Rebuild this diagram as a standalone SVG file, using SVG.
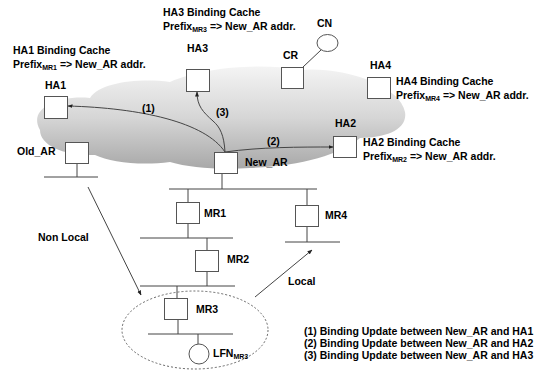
<svg xmlns="http://www.w3.org/2000/svg" width="543" height="370" viewBox="0 0 543 370">
<defs>
<linearGradient id="cg" x1="0" y1="0" x2="0" y2="1">
<stop offset="0" stop-color="#f4f4f4"/>
<stop offset="0.5" stop-color="#d6d6d6"/>
<stop offset="1" stop-color="#a8a8a8"/>
</linearGradient>
<marker id="ah" viewBox="0 0 10 10" refX="9" refY="5" markerWidth="5" markerHeight="5" orient="auto" markerUnits="userSpaceOnUse">
<path d="M0,1 L10,5 L0,9 Z" fill="#222"/>
</marker>
<style>
text{font-family:"Liberation Sans",Arial,sans-serif;font-weight:bold;font-size:10.5px;fill:#000}
.sub{font-size:7px}
.box{fill:#fff;stroke:#555;stroke-width:1}
.ln{stroke:#444;stroke-width:1;fill:none}
.ar{stroke:#444;stroke-width:1;fill:none;marker-end:url(#ah)}
</style>
</defs>
<rect width="543" height="370" fill="#fff"/>
<g id="cloud">
<path d="M40,130 C28,110 55,95 90,98 C100,82 140,78 170,82 C200,68 260,62 300,70 C340,66 400,84 405,112 C408,130 385,138 360,138 C340,155 300,166 250,168 C220,170 190,168 170,162 C140,166 110,162 95,155 C65,156 40,146 40,130 Z" fill="url(#cg)"/>
</g>
<g id="connectors">
<line class="ln" x1="77" y1="164" x2="77" y2="177"/>
<line class="ln" x1="44" y1="177" x2="98" y2="177"/>
<line class="ln" x1="222" y1="174" x2="222" y2="189"/>
<line class="ln" x1="169" y1="189" x2="317" y2="189"/>
<line class="ln" x1="188" y1="189" x2="188" y2="202"/>
<line class="ln" x1="188" y1="224" x2="188" y2="238"/>
<line class="ln" x1="140" y1="238" x2="233" y2="238"/>
<line class="ln" x1="307" y1="189" x2="307" y2="205"/>
<line class="ln" x1="307" y1="227" x2="307" y2="242"/>
<line class="ln" x1="285" y1="242" x2="340" y2="242"/>
<line class="ln" x1="207" y1="238" x2="207" y2="250"/>
<line class="ln" x1="207" y1="272" x2="207" y2="286"/>
<line class="ln" x1="140" y1="286" x2="235" y2="286"/>
<line class="ln" x1="177" y1="286" x2="177" y2="298"/>
<line class="ln" x1="178" y1="320" x2="178" y2="334"/>
<line class="ln" x1="148" y1="334" x2="233" y2="334"/>
<line class="ln" x1="198" y1="334" x2="198" y2="344"/>
<line class="ln" x1="303" y1="67" x2="321" y2="50"/>
<path class="ar" d="M225,152 C205,122 140,108 68,106"/>
<path class="ar" d="M225,152 C224,135 220,127 213,121 C203,112 197,106 197,92"/>
<path class="ar" d="M225,152 C260,147 300,147 333,147"/>
<line class="ar" x1="88" y1="187" x2="141" y2="295"/>
<line class="ar" x1="255" y1="297" x2="312" y2="250"/>
<ellipse cx="195" cy="330" rx="73" ry="39" fill="none" stroke="#666" stroke-width="1" stroke-dasharray="2,2"/>
</g>
<g id="HA1"><rect class="box" x="44.5" y="96.5" width="23" height="22"/><text x="45" y="89">HA1</text></g>
<g id="HA1cache"><text x="13" y="54">HA1 Binding Cache</text><text x="13" y="68">Prefix<tspan class="sub" dy="2">MR1</tspan><tspan dy="-2"> =&gt; New_AR addr.</tspan></text></g>
<g id="HA3"><rect class="box" x="186.5" y="69.5" width="23" height="22"/><text x="187" y="52">HA3</text></g>
<g id="HA3cache"><text x="163" y="16">HA3 Binding Cache</text><text x="163" y="30">Prefix<tspan class="sub" dy="2">MR3</tspan><tspan dy="-2"> =&gt; New_AR addr.</tspan></text></g>
<g id="CN"><ellipse cx="327.5" cy="43" rx="10.5" ry="8.5" fill="#fff" stroke="#555"/><text x="317" y="27">CN</text></g>
<g id="CR"><rect class="box" x="281.5" y="67.5" width="22" height="21"/><text x="283" y="59">CR</text></g>
<g id="HA4"><rect class="box" x="367.5" y="77.5" width="23" height="21"/><text x="370" y="69">HA4</text></g>
<g id="HA4cache"><text x="396" y="85">HA4 Binding Cache</text><text x="396" y="99">Prefix<tspan class="sub" dy="2">MR4</tspan><tspan dy="-2"> =&gt; New_AR addr.</tspan></text></g>
<g id="HA2"><rect class="box" x="333.5" y="136.5" width="23" height="21"/><text x="335" y="127">HA2</text></g>
<g id="HA2cache"><text x="363" y="146">HA2 Binding Cache</text><text x="363" y="160">Prefix<tspan class="sub" dy="2">MR2</tspan><tspan dy="-2"> =&gt; New_AR addr.</tspan></text></g>
<g id="Old_AR"><rect class="box" x="65.5" y="142.5" width="23" height="21"/><text x="17" y="155">Old_AR</text></g>
<g id="New_AR"><rect class="box" x="214.5" y="152.5" width="23" height="21"/><text x="245" y="166">New_AR</text></g>
<g id="MR1"><rect class="box" x="176.5" y="202.5" width="23" height="21"/><text x="204" y="217">MR1</text></g>
<g id="MR4"><rect class="box" x="295.5" y="205.5" width="23" height="21"/><text x="325" y="219">MR4</text></g>
<g id="MR2"><rect class="box" x="195.5" y="250.5" width="23" height="21"/><text x="227" y="263">MR2</text></g>
<g id="MR3"><rect class="box" x="164.5" y="298.5" width="23" height="21"/><text x="196" y="313">MR3</text></g>
<g id="LFN"><circle cx="199" cy="354" r="10" fill="#fff" stroke="#555"/><text x="213" y="357">LFN<tspan class="sub" dy="2">MR3</tspan></text></g>
<g id="labels">
<text x="142" y="112">(1)</text>
<text x="216" y="116">(3)</text>
<text x="267" y="145">(2)</text>
<text x="38" y="241">Non Local</text>
<text x="288" y="285">Local</text>
<text x="304" y="335">(1) Binding Update between New_AR and HA1</text>
<text x="304" y="347">(2) Binding Update between New_AR and HA2</text>
<text x="304" y="359">(3) Binding Update between New_AR and HA3</text>
</g>
</svg>
